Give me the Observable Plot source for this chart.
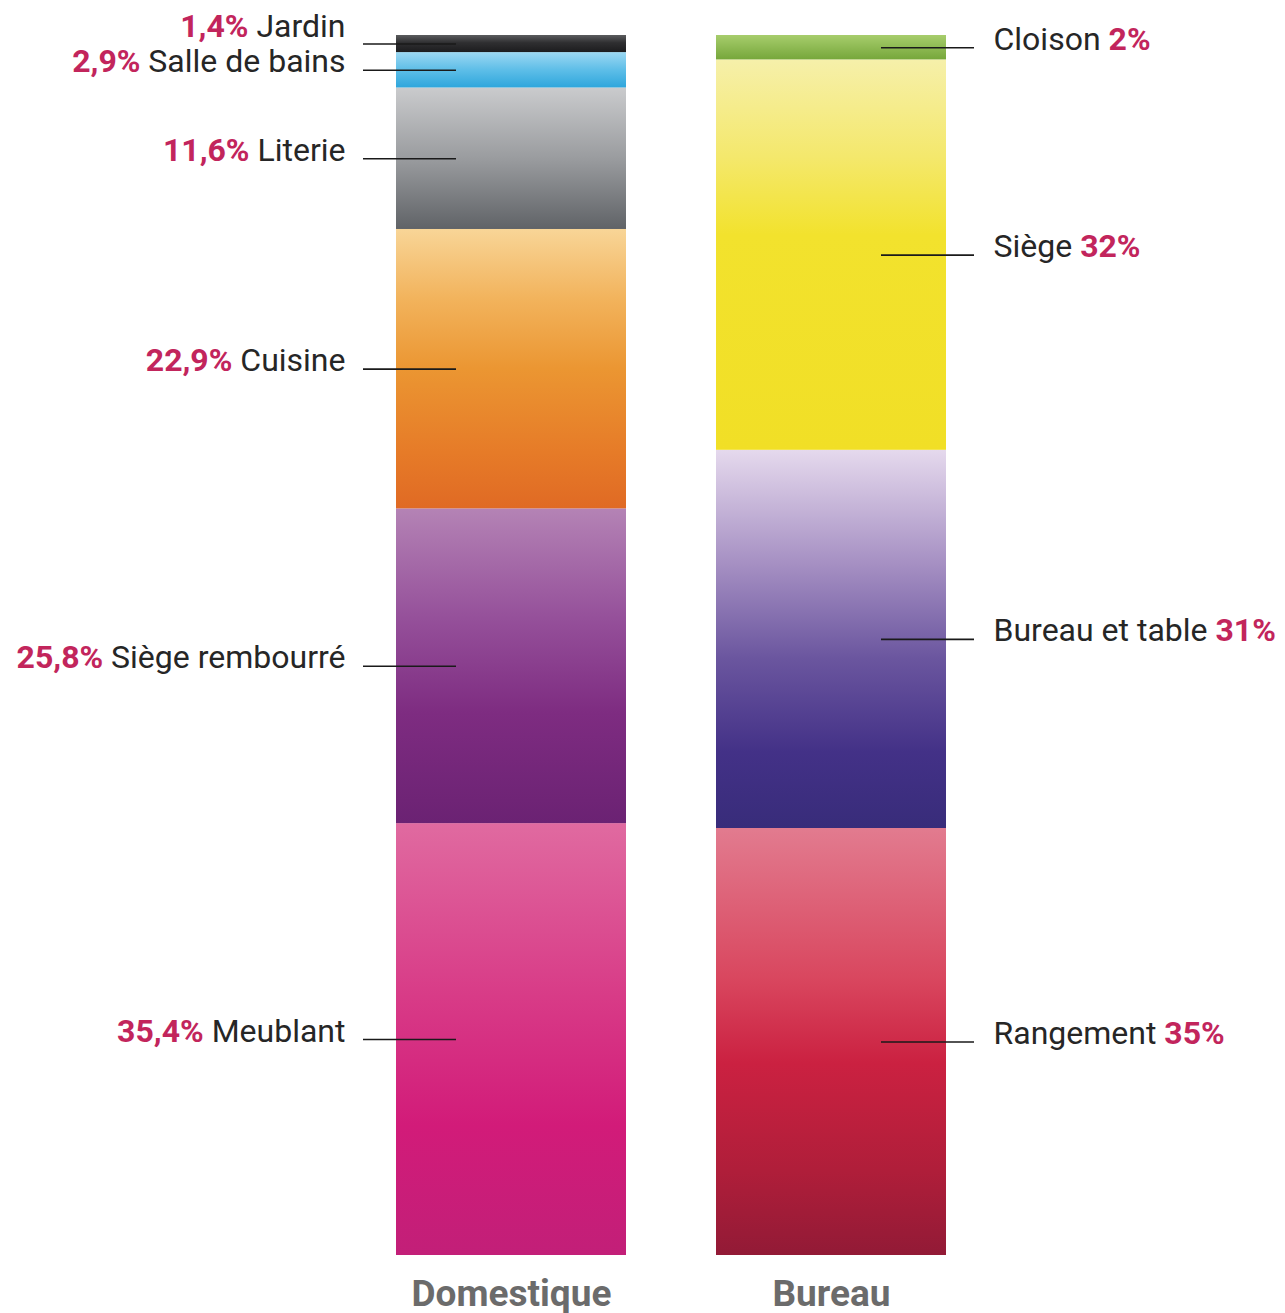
<!DOCTYPE html>
<html>
<head>
<meta charset="utf-8">
<script src="https://cdn.jsdelivr.net/npm/d3@7"></script>
<script src="https://cdn.jsdelivr.net/npm/@observablehq/plot@0.6"></script>
<style>
  html, body { margin: 0; padding: 0; background: #ffffff; overflow: hidden; }
  #chart svg { display: block; }
</style>
</head>
<body>
<div id="chart"></div>
<script>
// ---- data (bottom segment first) ----
const groups = ["Domestique", "Bureau"];
const domesticCategories = ["Meublant", "Siège rembourré", "Cuisine", "Literie", "Salle de bains", "Jardin"];
const domesticValues = [35.4, 25.8, 22.9, 11.6, 2.9, 1.4];
const officeCategories = ["Rangement", "Bureau et table", "Siège", "Cloison"];
const officeValues = [35, 31, 32, 2];

// ---- styles: vertical gradients per segment ----
const gradients = {
  "Domestique|Jardin": [[0, "#5b5c5e"], [0.45, "#2f2f31"], [1, "#1c1c1e"]],
  "Domestique|Salle de bains": [[0, "#9cd8f2"], [0.5, "#5ebee8"], [1, "#2ea6dc"]],
  "Domestique|Literie": [[0, "#cacbcd"], [0.5, "#9a9c9f"], [1, "#606367"]],
  "Domestique|Cuisine": [[0, "#f8d597"], [0.25, "#f2b35c"], [0.5, "#eb9632"], [0.8, "#e67b28"], [1, "#e06a24"]],
  "Domestique|Siège rembourré": [[0, "#b483b5"], [0.35, "#95509a"], [0.65, "#7e2c81"], [1, "#6b2273"]],
  "Domestique|Meublant": [[0, "#e06aa0"], [0.4, "#d83b87"], [0.7, "#d21b79"], [1, "#c21f78"]],
  "Bureau|Cloison": [[0, "#a7cd6c"], [1, "#76a73b"]],
  "Bureau|Siège": [[0, "#f6f0aa"], [0.25, "#f4e86c"], [0.45, "#f2e22d"], [1, "#f1df26"]],
  "Bureau|Bureau et table": [[0, "#e5d9ed"], [0.3, "#a690c3"], [0.55, "#6b569f"], [0.8, "#433187"], [1, "#382c7a"]],
  "Bureau|Rangement": [[0, "#e27b8f"], [0.35, "#d9475f"], [0.55, "#cb2141"], [0.8, "#b01e3a"], [1, "#921a36"]]
};
const pctColor = "#c2255c";
const nameColor = "#262626";
const fontFamily = "Roboto, 'Noto Sans', sans-serif";
const labelSize = 32;

// ---- build rows with stacked positions ----
const fmt = v => String(v).replace(".", ",") + "%";
function buildRows(group, cats, vals) {
  let acc = 0;
  return cats.map((c, i) => {
    const y1 = acc; acc += vals[i];
    return {group, category: c, value: vals[i], y1, y2: acc, mid: (y1 + acc) / 2,
            pct: fmt(vals[i]), gid: "g" + (group === "Domestique" ? "d" : "b") + i};
  });
}
const domRows = buildRows("Domestique", domesticCategories, domesticValues);
const offRows = buildRows("Bureau", officeCategories, officeValues);

// dodge label baselines so they don't collide (data units, bottom to top)
function dodge(rows, gap) {
  let prev = -Infinity;
  rows.forEach(r => { r.ty = Math.max(r.mid, prev + gap); prev = r.ty; });
}
dodge(domRows, 2.9);
dodge(offRows, 2.9);
const rows = [...domRows, ...offRows];

// text measurement
const ctx = document.createElement("canvas").getContext("2d");
function measure(s, weight) {
  ctx.font = `${weight} ${labelSize}px Roboto`;
  return ctx.measureText(s).width;
}
rows.forEach(r => { r.nameW = measure(r.category + " ", "normal"); });

const leftDx = -166, rightDx = 162;

const plot = Plot.plot({
  width: 1285,
  height: 1313,
  marginTop: 35,
  marginBottom: 58,
  marginLeft: 306,
  marginRight: 249,
  style: {fontFamily, background: "#ffffff", overflow: "visible"},
  x: {domain: groups, padding: 0.28125, round: false, axis: null},
  y: {domain: [0, 100], axis: null},
  color: {type: "identity"},
  marks: [
    Plot.rectY(rows, {x: "group", y1: "y1", y2: "y2", fill: d => `url(#${d.gid})`}),
    // leader lines
    Plot.ruleY(domRows, {x1: "group", x2: "group", y: "mid", insetLeft: -33, insetRight: 170, stroke: "#1a1a1a", strokeWidth: 1.6}),
    Plot.ruleY(offRows, {x1: "group", x2: "group", y: "mid", insetLeft: 165, insetRight: -28, stroke: "#1a1a1a", strokeWidth: 1.6}),
    // left labels: "pct name"
    Plot.text(domRows, {x: "group", y: "ty", text: "category", dx: leftDx, dy: 2, textAnchor: "end", lineAnchor: "bottom",
      fontSize: labelSize, fill: nameColor}),
    Plot.text(domRows, {x: "group", y: "ty", text: "pct", dx: 0, dy: 2, textAnchor: "end", lineAnchor: "bottom",
      fontSize: labelSize, fontWeight: "bold", fill: pctColor}),
    // right labels: "name pct"
    Plot.text(offRows, {x: "group", y: "ty", text: "category", dx: rightDx, dy: 2, textAnchor: "start", lineAnchor: "bottom",
      fontSize: labelSize, fill: nameColor}),
    Plot.text(offRows, {x: "group", y: "ty", text: "pct", dx: 0, dy: 2, textAnchor: "start", lineAnchor: "bottom",
      fontSize: labelSize, fontWeight: "bold", fill: pctColor}),
    // group labels
    Plot.text(groups, {x: d => d, y: 0, text: d => d, dy: 50, lineAnchor: "bottom",
      fontSize: 37, fontWeight: "bold", fill: "#6b6b6b"})
  ]
});

// per-datum dx for pct labels (depends on name width)
const svg = d3.select(plot);
const textGroups = svg.selectAll("g[aria-label='text']").nodes();
// order: 0 dom names, 1 dom pct, 2 off names, 3 off pct, 4 groups
d3.select(textGroups[1]).selectAll("text").each(function(_, i) {
  const t = d3.select(this);
  const tr = t.attr("transform");
  t.attr("transform", (tr || "") + ` translate(${leftDx - domRows[i].nameW},0)`);
});
d3.select(textGroups[3]).selectAll("text").each(function(_, i) {
  const t = d3.select(this);
  const tr = t.attr("transform");
  t.attr("transform", (tr || "") + ` translate(${rightDx + offRows[i].nameW},0)`);
});

// gradients
const defs = svg.insert("defs", ":first-child");
rows.forEach(r => {
  const g = defs.append("linearGradient").attr("id", r.gid)
    .attr("x1", 0).attr("y1", 0).attr("x2", 0).attr("y2", 1);
  gradients[r.group + "|" + r.category].forEach(([o, c]) =>
    g.append("stop").attr("offset", o).attr("stop-color", c));
});

document.getElementById("chart").appendChild(plot);
</script>
</body>
</html>
